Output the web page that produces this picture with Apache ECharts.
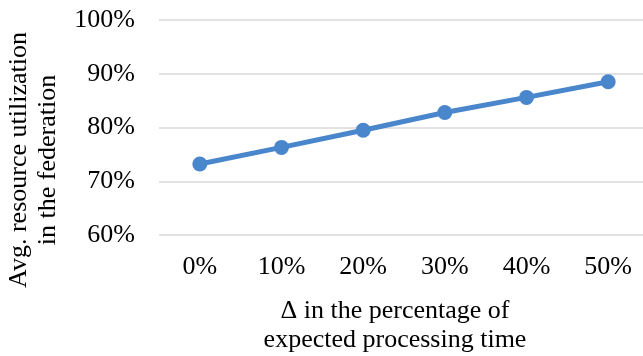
<!DOCTYPE html>
<html>
<head>
<meta charset="utf-8">
<script src="https://cdn.jsdelivr.net/npm/echarts@6/dist/echarts.min.js"></script>
<style>
  html, body { margin: 0; padding: 0; background: #fff; }
  #chart { width: 643px; height: 356px; }
</style>
</head>
<body>
<div id="chart"></div>
<script>
// Delta in expected processing time (x) vs. average utilization (y, %)
const deltaLabels = ['0%', '10%', '20%', '30%', '40%', '50%'];
const utilization = [73.2, 76.3, 79.5, 82.8, 85.6, 88.5];
const yTicks = { min: 60, max: 100, step: 10 };

const serif = '"Liberation Serif", "Times New Roman", serif';
const chart = echarts.init(document.getElementById('chart'), null, { renderer: 'canvas' });

chart.setOption({
  animation: false,
  grid: { left: 159, top: 20, width: 490, height: 215, containLabel: false, outerBoundsMode: 'none' },
  xAxis: {
    type: 'category',
    data: deltaLabels,
    boundaryGap: true,
    axisLine: { show: false },
    axisTick: { show: false },
    axisLabel: { fontFamily: serif, fontSize: 26, color: '#000', margin: 19 },
    name: 'Δ in the percentage of\nexpected processing time',
    nameLocation: 'middle',
    nameGap: 62,
    nameTextStyle: { fontFamily: serif, fontSize: 26, color: '#000', lineHeight: 29, padding: [0, 18, 0, 0] }
  },
  yAxis: {
    type: 'value',
    min: yTicks.min,
    max: yTicks.max,
    interval: yTicks.step,
    axisLine: { show: false },
    axisTick: { show: false },
    axisLabel: { fontFamily: serif, fontSize: 26, color: '#000', margin: 24, formatter: '{value}%' },
    splitLine: { lineStyle: { color: '#d9d9d9', width: 1.5 } },
    name: 'Avg. resource utilization\nin the federation',
    nameLocation: 'middle',
    nameGap: 96,
    nameTextStyle: { fontFamily: serif, fontSize: 26, color: '#000', lineHeight: 29, padding: [0, 65, 0, 0] }
  },
  series: [{
    type: 'line',
    data: utilization,
    symbol: 'circle',
    symbolSize: 15,
    lineStyle: { color: '#4a86cc', width: 5 },
    itemStyle: { color: '#4a86cc' }
  }]
});
</script>
</body>
</html>
